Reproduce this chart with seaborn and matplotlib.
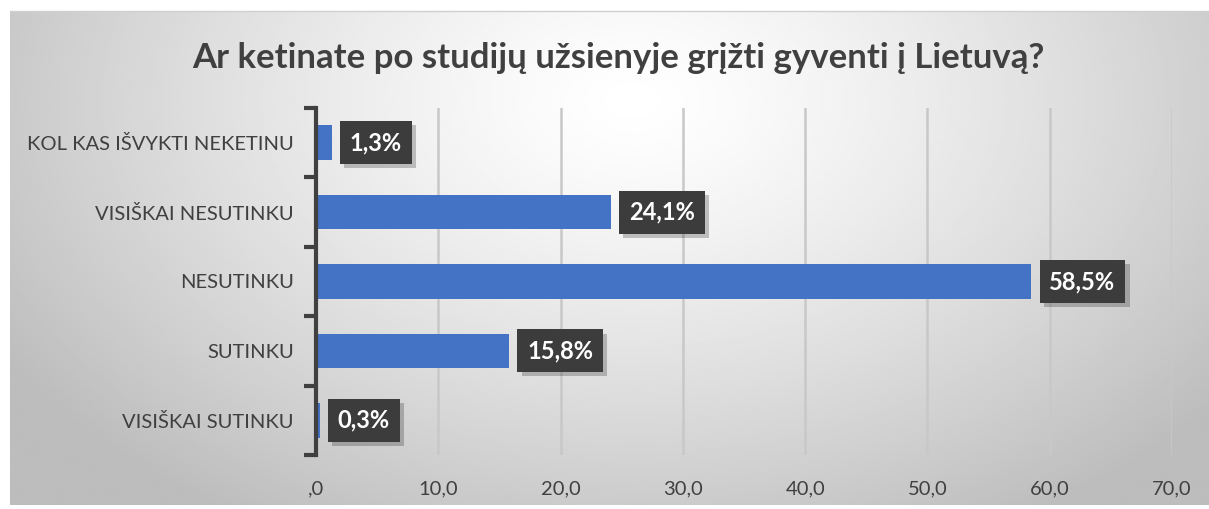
import numpy as np
import matplotlib
matplotlib.use("Agg")
import matplotlib.pyplot as plt
import matplotlib.patheffects as pe
import seaborn as sns

# Data
categories = ["KOL KAS IŠVYKTI NEKETINU", "VISIŠKAI NESUTINKU", "NESUTINKU",
              "SUTINKU", "VISIŠKAI SUTINKU"]
values = [1.3, 24.1, 58.5, 15.8, 0.3]
value_labels = ["1,3%", "24,1%", "58,5%", "15,8%", "0,3%"]
x_ticks = [0, 10, 20, 30, 40, 50, 60, 70]
x_tick_labels = [",0", "10,0", "20,0", "30,0", "40,0", "50,0", "60,0", "70,0"]
title = "Ar ketinate po studijų užsienyje grįžti gyventi į Lietuvą?"

sns.set_theme(style="white")
plt.rcParams["font.family"] = ["Lato", "DejaVu Sans"]

W, H = 1209, 509
fig = plt.figure(figsize=(W / 100, H / 100), dpi=100, facecolor="white")

# radial gradient background of the chart area
bg = fig.add_axes([10 / W, 4 / H, 1 - 10 / W, 1 - 15 / H], zorder=-5)
gx, gy = np.meshgrid(np.linspace(0, 1, 400), np.linspace(0, 1, 200))
d = np.sqrt(((gx - 0.52) / 0.62) ** 2 + ((gy - 0.18) / 1.0) ** 2)
shade = 1 - 0.26 * np.clip(d, 0, 1) ** 1.3
bg.imshow(shade, cmap="gray", vmin=0, vmax=1, aspect="auto",
          extent=[0, 1, 1, 0], interpolation="bilinear")
bg.axis("off")
fig.add_artist(plt.Line2D([10 / W, 1], [1 - 11 / H, 1 - 11 / H],
                          color="#d0d0d0", lw=1, transform=fig.transFigure))

ax = fig.add_axes([316 / W, 54 / H, 856 / W, 347 / H])
ax.patch.set_alpha(0)
sns.barplot(x=values, y=categories, orient="h", color="#4472C4",
            saturation=1, width=0.5, linewidth=0, ax=ax, zorder=3)

ax.set_xlim(0, 70)
ax.set_ylim(4.5, -0.5)
ax.set_xticks(x_ticks)
ax.set_xticklabels(x_tick_labels)
ax.set_xlabel("")
ax.set_ylabel("")
ax.grid(axis="x", color="#c8c8c8", lw=1.8, zorder=0)
ax.grid(axis="y", visible=False)
for s in ["top", "right", "bottom"]:
    ax.spines[s].set_visible(False)
ax.spines["left"].set_color("#404040")
ax.spines["left"].set_linewidth(3)
ax.spines["left"].set_zorder(5)

ax.tick_params(axis="x", length=0, pad=18, labelsize=14.5, labelcolor="#404040")
ax.tick_params(axis="y", which="major", length=0, pad=16, labelsize=14.5,
               labelcolor="#404040")
ax.set_yticks(np.arange(-0.5, 5, 1), minor=True)
ax.tick_params(axis="y", which="minor", length=9, width=3, color="#404040",
               left=True)

for i, (v, lab) in enumerate(zip(values, value_labels)):
    ann = ax.annotate(lab, xy=(v, i), xytext=(13, 0), textcoords="offset points",
                      ha="left", va="center", fontsize=17, fontweight="bold",
                      color="white", zorder=7,
                      bbox=dict(boxstyle="square,pad=0.42", facecolor="#3c3c3c",
                                edgecolor="none"))
    ann.get_bbox_patch().set_path_effects(
        [pe.SimplePatchShadow(offset=(3, -3), shadow_rgbFace="black", alpha=0.22),
         pe.Normal()])

fig.text(618 / W, 1 - 58 / H, title, ha="center", va="center", fontsize=25,
         fontweight="bold", color="#404040")

fig.savefig("out.png", dpi=100)
